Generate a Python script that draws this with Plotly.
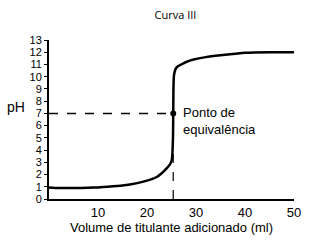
import plotly.graph_objects as go

volume = [0, 2, 5, 8, 10, 12, 15, 18, 20, 22, 23, 24, 24.8, 25.1, 25.3, 25.35, 25.4, 25.5, 25.8, 26.3, 27, 28, 29.5, 32, 35, 38, 40, 45, 50]
ph = [0.95, 0.9, 0.9, 0.92, 0.95, 1.0, 1.1, 1.3, 1.5, 1.8, 2.1, 2.5, 2.9, 3.3, 5, 7, 9, 10.1, 10.6, 10.85, 11.0, 11.2, 11.4, 11.6, 11.75, 11.87, 11.95, 12.0, 12.0]

eq_volume = 25.35
eq_ph = 7
x_ticks = [10, 20, 30, 40, 50]
y_ticks = list(range(0, 14))

font = "Liberation Sans Narrow, Liberation Sans, Arial"

fig = go.Figure()
fig.add_trace(go.Scatter(x=[0, eq_volume], y=[eq_ph, eq_ph], mode="lines",
                         line=dict(color="black", width=1.5, dash="dash"), showlegend=False, hoverinfo="skip"))
fig.add_trace(go.Scatter(x=[eq_volume, eq_volume], y=[0, eq_ph], mode="lines",
                         line=dict(color="black", width=1.2, dash="dash"), showlegend=False, hoverinfo="skip"))
fig.add_trace(go.Scatter(x=volume, y=ph, mode="lines", line=dict(color="black", width=2.5, shape="spline", smoothing=0.6),
                         showlegend=False))
fig.add_trace(go.Scatter(x=[eq_volume], y=[eq_ph], mode="markers", marker=dict(color="black", size=6), showlegend=False))

fig.add_annotation(x=eq_volume, y=eq_ph, text="Ponto de<br>equivalência", showarrow=False,
                   xanchor="left", yanchor="middle", xshift=8, yshift=-8, align="left",
                   font=dict(family=font, size=13, color="black"))
fig.add_annotation(x=0, y=eq_ph, xref="paper", text="pH", showarrow=False, xanchor="right",
                   xshift=-22, yshift=6, font=dict(family=font, size=14, color="black"))

fig.update_layout(
    width=325, height=247,
    margin=dict(l=49, r=31, t=40, b=48),
    paper_bgcolor="white", plot_bgcolor="white",
    title=dict(text="Curva III", x=0.54, xanchor="center", y=0.94, yanchor="middle",
               font=dict(family="Open Sans, Arial", size=11, color="black")),
    xaxis=dict(range=[0, 50], tickvals=x_ticks, showgrid=False, zeroline=False, showline=True,
               linecolor="black", linewidth=2, ticks="", tickfont=dict(family=font, size=13, color="black"),
               title=dict(text="Volume de titulante adicionado (ml)", font=dict(family=font, size=13, color="black"),
                          standoff=2)),
    yaxis=dict(range=[0, 13], tickvals=y_ticks, showgrid=False, zeroline=False, showline=True,
               linecolor="black", linewidth=2, ticks="outside", ticklen=3, tickcolor="black",
               tickfont=dict(family=font, size=11, color="black")),
)

fig.write_html("out.html")
